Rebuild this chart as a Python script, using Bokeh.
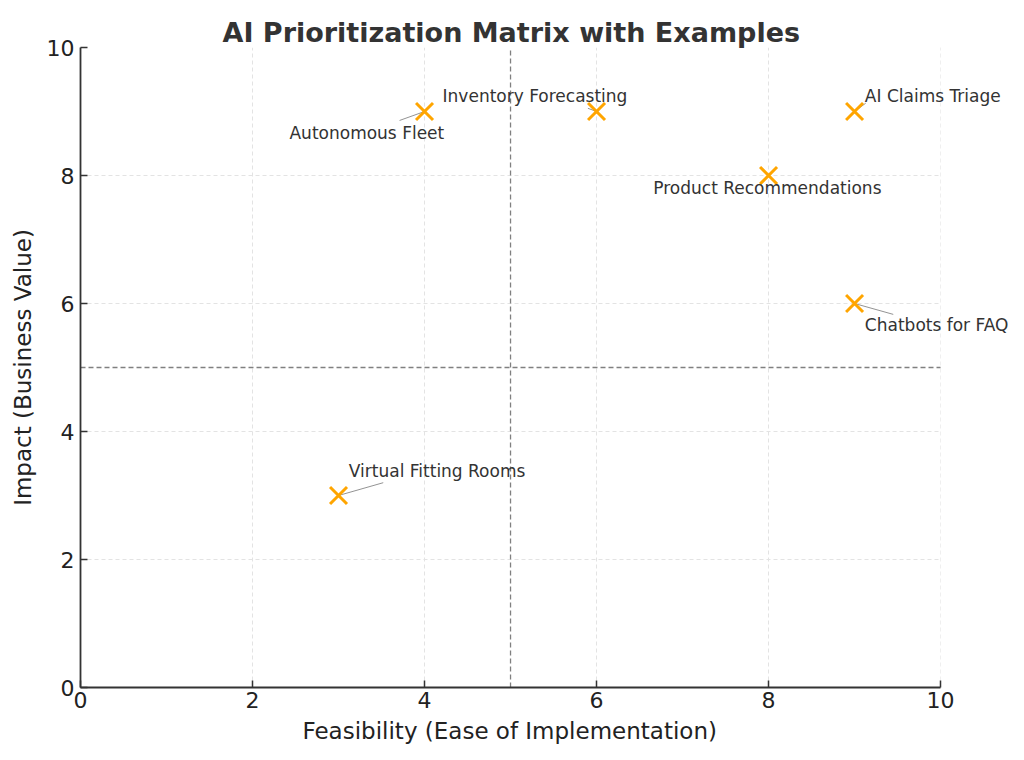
from bokeh.plotting import figure
from bokeh.models import ColumnDataSource, FixedTicker, LabelSet, BoxAnnotation, Title
from bokeh.embed import file_html
from bokeh.resources import INLINE
from bokeh.core.properties import value

# data
names = ["Autonomous Fleet", "Inventory Forecasting", "AI Claims Triage",
         "Product Recommendations", "Chatbots for FAQ", "Virtual Fitting Rooms"]
feasibility = [4, 6, 9, 8, 9, 3]
impact = [9, 9, 9, 8, 6, 3]

# where the labels ended up (data coords)
label_x = [2.43, 4.21, 9.12, 6.66, 9.12, 3.12]
label_y = [8.66, 9.25, 9.25, 7.80, 5.66, 3.39]
# end of the little connector lines
conn_x = [3.71, 5.9, 9.13, 8.0, 9.45, 3.52]
conn_y = [8.86, 9.05, 9.13, 8.0, 5.83, 3.20]

# quadrant split lines
split_x0 = [5, 0]
split_y0 = [0, 5]
split_x1 = [5, 10]
split_y1 = [10, 5]

FONT = "DejaVu Sans"
XMAX = 10.79   # room on the right so the labels are not cut off

p = figure(title="AI Prioritization Matrix with Examples",
           x_range=(0, XMAX), y_range=(0, 10),
           frame_width=928, frame_height=640,
           min_border_left=80, min_border_right=0,
           min_border_top=47, min_border_bottom=10,
           output_backend="svg", toolbar_location=None)

p.title.text_font = FONT
p.title.text_font_size = "27px"
p.title.text_font_style = "bold"
p.title.text_color = "#333333"
p.title.align = "left"
p.title.offset = 142
p.title.standoff = 0
p.outline_line_color = None
p.background_fill_color = "white"

for ax in (p.xaxis, p.yaxis):
    ax.ticker = FixedTicker(ticks=[0, 2, 4, 6, 8, 10])
    ax.bounds = (0, 10)
    ax.minor_tick_line_color = None
    ax.major_tick_out = 0
    ax.major_tick_in = 7
    ax.axis_line_width = 1.8
    ax.axis_line_color = "#333333"
    ax.major_tick_line_color = "#333333"
    ax.major_tick_line_width = 1.5
    ax.major_label_text_font = FONT
    ax.major_label_text_font_size = "22px"
    ax.major_label_text_color = "#222222"
    ax.axis_label_text_font = FONT
    ax.axis_label_text_font_size = "23px"
    ax.axis_label_text_font_style = "normal"
    ax.axis_label_text_color = "#222222"

p.yaxis.axis_label = "Impact (Business Value)"
p.xaxis.major_label_standoff = 4
p.yaxis.major_label_standoff = 6
p.yaxis.axis_label_standoff = 8

# x axis title, centred over 0..10 rather than the wider frame
xlabel = Title(text="Feasibility (Ease of Implementation)", align="left",
               offset=222, text_font=FONT, text_font_size="23px",
               text_font_style="normal", text_color="#222222", standoff=11)
p.add_layout(xlabel, "below")

p.grid.grid_line_color = "#e3e3e3"
p.grid.grid_line_dash = "4 3"
p.grid.grid_line_width = 1

# hide the grid past x = 10
p.add_layout(BoxAnnotation(left=10, fill_color="white", fill_alpha=1,
                           line_color=None, level="underlay"))

p.segment(split_x0, split_y0, split_x1, split_y1, line_color="#808080",
          line_dash="5 3", line_width=1.3)

src = ColumnDataSource(dict(x=feasibility, y=impact, name=names,
                            lx=label_x, ly=label_y, cx=conn_x, cy=conn_y))

p.segment("x", "y", "cx", "cy", source=src, line_color="#555555",
          line_width=0.8, line_alpha=0.8)

p.scatter("x", "y", source=src, marker="x", size=24, line_color="orange",
          line_width=3)

labels = LabelSet(x="lx", y="ly", text="name", source=src,
                  text_font=value(FONT), text_font_size="17px",
                  text_color="#333333", text_baseline="middle",
                  text_align="left")
p.add_layout(labels)

open("out.html", "w").write(file_html(p, INLINE))
